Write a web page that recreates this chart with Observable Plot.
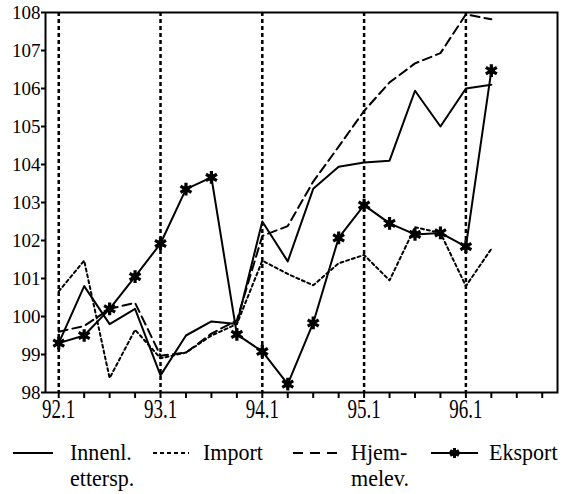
<!DOCTYPE html>
<html><head><meta charset="utf-8">
<script src="https://cdn.jsdelivr.net/npm/d3@7"></script>
<script src="https://cdn.jsdelivr.net/npm/@observablehq/plot@0.6"></script>
<style>
body{margin:0;background:#fff;}
#chart{width:576px;height:494px;position:relative;overflow:hidden;}
#chart svg{display:block;}
</style></head><body><div id="chart"></div>
<script>
const quarters = ["92.1","92.2","92.3","92.4","93.1","93.2","93.3","93.4","94.1","94.2","94.3","94.4","95.1","95.2","95.3","95.4","96.1","96.2","96.3","96.4"];
const yearStarts = ["92.1","93.1","94.1","95.1","96.1"];
const yTicks = [98,99,100,101,102,103,104,105,106,107,108];
const innenl =    [99.3, 100.8, 99.8, 100.2, 98.45, 99.5, 99.87, 99.8, 102.5, 101.45, 103.36, 103.94, 104.05, 104.1, 105.94, 105.0, 106.0, 106.1];
const importVals =[100.66, 101.47, 98.38, 99.65, 98.9, 99.05, 99.5, 99.8, 101.47, 101.12, 100.82, 101.4, 101.62, 100.95, 102.35, 102.2, 100.8, 101.78];
const hjemmelev = [99.6, 99.75, 100.2, 100.36, 98.97, 99.05, 99.55, 99.9, 102.12, 102.38, 103.55, 104.47, 105.41, 106.16, 106.66, 106.93, 107.95, 107.82];
const eksport =   [99.3, 99.5, 100.2, 101.05, 101.92, 103.35, 103.66, 99.53, 99.08, 98.22, 99.83, 102.07, 102.93, 102.45, 102.16, 102.2, 101.84, 106.47];
const legendLines = [["Innenl.","ettersp."],["Import"],["Hjem-","melev."],["Eksport"]];

const toRows = vals => vals.map((v, i) => ({i, v}));
const startIdx = yearStarts.map(s => quarters.indexOf(s));
const font = "'Liberation Serif', 'Times New Roman', serif";

const plot = Plot.plot({
  width: 576, height: 425,
  marginLeft: 45, marginRight: 19, marginTop: 12, marginBottom: 33,
  style: {fontFamily: font, fontSize: "19px", color: "#000", background: "#fff"},
  x: {domain: [-0.52, 19.6]},
  y: {domain: [98, 108]},
  marks: [
    Plot.ruleX(startIdx, {stroke: "#000", strokeWidth: 2.5, strokeDasharray: "4,3"}),
    Plot.line(toRows(innenl), {x: "i", y: "v", stroke: "#000", strokeWidth: 2}),
    Plot.line(toRows(importVals), {x: "i", y: "v", stroke: "#000", strokeWidth: 2, strokeDasharray: "3,3"}),
    Plot.line(toRows(hjemmelev), {x: "i", y: "v", stroke: "#000", strokeWidth: 2, strokeDasharray: "9,5"}),
    Plot.line(toRows(eksport), {x: "i", y: "v", stroke: "#000", strokeWidth: 2}),
    Plot.dot(toRows(eksport), {x: "i", y: "v", symbol: "asterisk", r: 6, stroke: "#000", strokeWidth: 3.2}),
    Plot.dot(toRows(eksport), {x: "i", y: "v", r: 3.5, fill: "#000"}),
    Plot.axisY({ticks: yTicks, tickSize: 4, tickPadding: 1, tickFormat: d => String(d), label: null, strokeWidth: 2, fontSize: 19}),
    Plot.axisX({ticks: d3.range(quarters.length), tickSize: 6, tickPadding: 0, tickFormat: i => yearStarts.includes(quarters[i]) ? quarters[i] : "", label: null, strokeWidth: 2, fontSize: 19}),
    Plot.frame({stroke: "#000", strokeWidth: 2})
  ]
});

plot.querySelectorAll('g[aria-label="x-axis tick label"] text').forEach(t => {
  const tr = t.getAttribute("transform");
  if (tr) t.setAttribute("transform", tr + " scale(1,1.45)");
  else {
    const x = +t.getAttribute("x") || 0, y = +t.getAttribute("y") || 0;
    t.setAttribute("transform", `translate(${x},${y}) scale(1,1.45) translate(${-x},${-y})`);
  }
});

const chart = document.getElementById("chart");
chart.appendChild(plot);

// Legend
const lg = d3.create("svg").attr("width", 576).attr("height", 69)
  .style("font-family", font).style("font-size", "21px");
const items = [
  {x0: 13, x1: 53, dash: null, tx: 70, marker: false},
  {x0: 153, x1: 189, dash: "4,3", tx: 203, marker: false},
  {x0: 293, x1: 338, dash: "10,7", tx: 351, marker: false},
  {x0: 431, x1: 478, dash: null, tx: 489, marker: true}
];
items.forEach((it, k) => {
  const ln = lg.append("line").attr("x1", it.x0).attr("x2", it.x1).attr("y1", 28).attr("y2", 28)
    .attr("stroke", "#000").attr("stroke-width", 2);
  if (it.dash) ln.attr("stroke-dasharray", it.dash);
  if (it.marker) {
    const sym = d3.symbol(d3.symbolAsterisk, 70)();
    lg.append("path").attr("d", sym).attr("transform", `translate(${(it.x0 + it.x1) / 2},28)`)
      .attr("stroke", "#000").attr("stroke-width", 3).attr("fill", "none");
    lg.append("circle").attr("cx", (it.x0 + it.x1) / 2).attr("cy", 28).attr("r", 3).attr("fill", "#000");
  }
  legendLines[k].forEach((s, j) => {
    lg.append("text").attr("transform", `translate(${it.tx},${34.5 + j * 26.5}) scale(1.05,1.08)`)
      .attr("fill", "#000").text(s);
  });
});
chart.appendChild(lg.node());
</script>
</body></html>
